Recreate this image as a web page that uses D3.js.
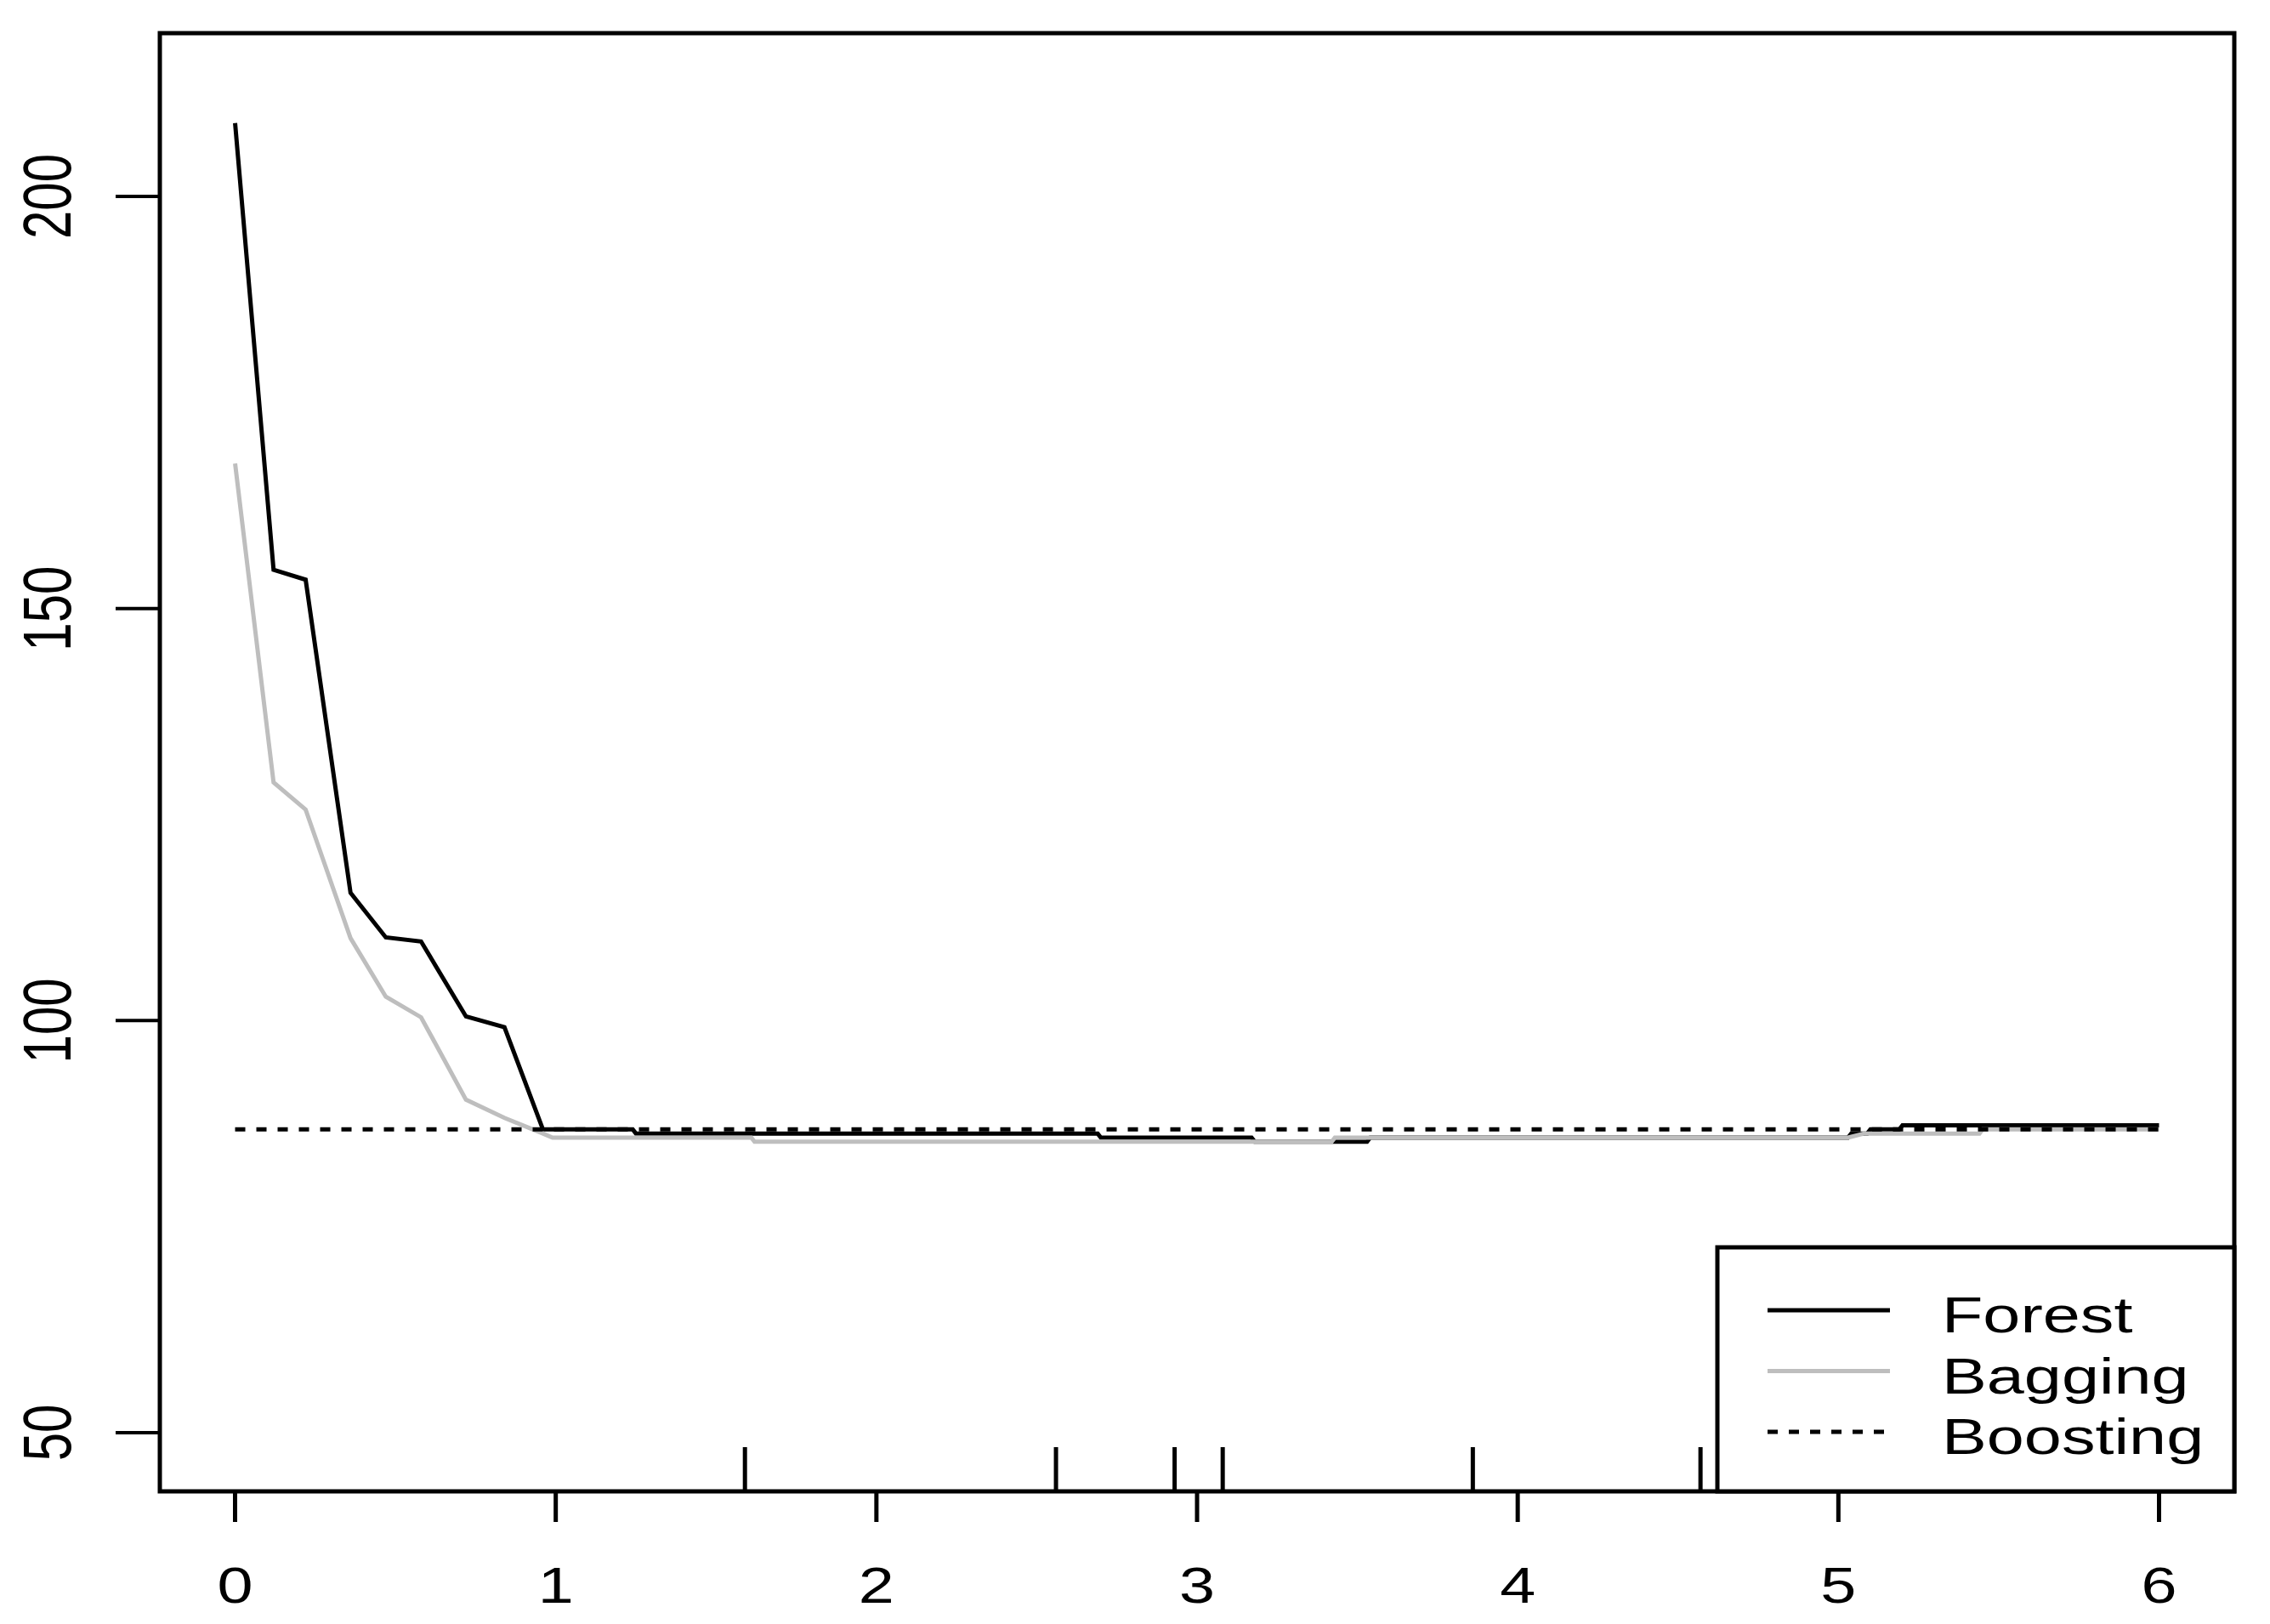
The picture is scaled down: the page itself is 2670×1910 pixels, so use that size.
<!DOCTYPE html>
<html>
<head>
<meta charset="utf-8">
<script src="https://cdn.jsdelivr.net/npm/d3@7"></script>
<style>
  body { margin: 0; background: #fff; }
  text { font-family: "Liberation Sans", Arial, sans-serif; fill: #000; }
</style>
</head>
<body>
<div id="chart"></div>
<script>
// Data
var forestX = [0, 0.12, 0.22, 0.36, 0.47, 0.58, 0.72, 0.84, 0.96, 1.24, 1.25, 2.69, 2.70, 3.17, 3.18, 3.53, 3.54, 5.03, 5.04, 5.09, 5.10, 5.19, 5.20, 6];
var forestY = [208.9, 154.7, 153.5, 115.5, 110.1, 109.6, 100.5, 99.2, 86.8, 86.8, 86.3, 86.3, 85.8, 85.8, 85.3, 85.3, 85.8, 85.8, 86.3, 86.3, 86.8, 86.8, 87.3, 87.3];

var baggingX = [0, 0.12, 0.22, 0.36, 0.47, 0.58, 0.72, 0.84, 0.96, 0.99, 1.61, 1.62, 3.42, 3.43, 5.03, 5.08, 5.44, 5.45, 6];
var baggingY = [167.6, 128.9, 125.6, 110.0, 102.9, 100.4, 90.4, 88.2, 86.3, 85.8, 85.8, 85.3, 85.3, 85.8, 85.8, 86.3, 86.3, 86.8, 86.8];

var boostingX = [0, 6];
var boostingY = [86.8, 86.8];

var rugX = [1.59, 2.56, 2.93, 3.08, 3.86, 4.57];

var xTicks = [0, 1, 2, 3, 4, 5, 6];
var yTicks = [50, 100, 150, 200];

var legendLabels = ["Forest", "Bagging", "Boosting"];

// Page and plot region
var W = 2670, H = 1910;
var box = {left: 188, right: 2628, top: 39, bottom: 1754};
var stretch = 1.32;     // legend text is drawn wider than tall
var tickStretch = 1.26; // axis digits a little narrower

var x = d3.scaleLinear().domain([-0.24, 6.24]).range([186, 2630]);
var y = d3.scaleLinear().domain([42.88, 219.81]).range([box.bottom, box.top]);

var svg = d3.select("#chart").append("svg")
    .attr("width", W)
    .attr("height", H);

svg.append("rect")
    .attr("width", W).attr("height", H)
    .attr("fill", "#fff");

function pts(xs, ys) {
  return xs.map(function(d, i) { return [d, ys[i]]; });
}

var line = d3.line()
    .x(function(d) { return x(d[0]); })
    .y(function(d) { return y(d[1]); });

// Series
svg.append("path")
    .attr("d", line(pts(forestX, forestY)))
    .attr("fill", "none")
    .attr("stroke", "#000")
    .attr("stroke-width", 5);

svg.append("path")
    .attr("d", line(pts(baggingX, baggingY)))
    .attr("fill", "none")
    .attr("stroke", "#bebebe")
    .attr("stroke-width", 5);

svg.append("path")
    .attr("d", line(pts(boostingX, boostingY)))
    .attr("fill", "none")
    .attr("stroke", "#000")
    .attr("stroke-width", 5)
    .attr("stroke-dasharray", "12,13");

// Rug marks along the bottom
svg.selectAll(".rug")
    .data(rugX)
  .enter().append("line")
    .attr("class", "rug")
    .attr("x1", function(d) { return x(d); })
    .attr("x2", function(d) { return x(d); })
    .attr("y1", box.bottom)
    .attr("y2", box.bottom - 52)
    .attr("stroke", "#000")
    .attr("stroke-width", 5);

// x axis
svg.selectAll(".xtick")
    .data(xTicks)
  .enter().append("line")
    .attr("x1", function(d) { return x(d); })
    .attr("x2", function(d) { return x(d); })
    .attr("y1", box.bottom)
    .attr("y2", box.bottom + 36)
    .attr("stroke", "#000")
    .attr("stroke-width", 5);

svg.selectAll(".xlab")
    .data(xTicks)
  .enter().append("text")
    .attr("transform", function(d) { return "translate(" + x(d) + ",1885) scale(" + tickStretch + ",1)"; })
    .attr("text-anchor", "middle")
    .style("font-size", "60px")
    .text(function(d) { return d; });

// y axis
svg.selectAll(".ytick")
    .data(yTicks)
  .enter().append("line")
    .attr("x1", box.left - 52)
    .attr("x2", box.left)
    .attr("y1", function(d) { return y(d); })
    .attr("y2", function(d) { return y(d); })
    .attr("stroke", "#000")
    .attr("stroke-width", 4);

svg.selectAll(".ylab")
    .data(yTicks)
  .enter().append("text")
    .attr("transform", function(d) { return "translate(83," + y(d) + ") scale(" + stretch + ",1) rotate(-90)"; })
    .attr("text-anchor", "middle")
    .style("font-size", "60px")
    .text(function(d) { return d; });

// plot box
svg.append("rect")
    .attr("x", box.left).attr("y", box.top)
    .attr("width", box.right - box.left)
    .attr("height", box.bottom - box.top)
    .attr("fill", "none")
    .attr("stroke", "#000")
    .attr("stroke-width", 5);

// Legend, bottom right
var lg = {left: 2020, top: 1467};
svg.append("rect")
    .attr("x", lg.left).attr("y", lg.top)
    .attr("width", box.right - lg.left)
    .attr("height", box.bottom - lg.top)
    .attr("fill", "#fff")
    .attr("stroke", "#000")
    .attr("stroke-width", 5);

var legendStyle = [
  {color: "#000", dash: null},
  {color: "#bebebe", dash: null},
  {color: "#000", dash: "12,13"}
];

legendLabels.forEach(function(name, i) {
  var cy = 1541 + i * 71.5;
  svg.append("line")
      .attr("x1", 2079).attr("x2", 2223)
      .attr("y1", cy).attr("y2", cy)
      .attr("stroke", legendStyle[i].color)
      .attr("stroke-width", 5)
      .attr("stroke-dasharray", legendStyle[i].dash);
  svg.append("text")
      .attr("transform", "translate(2284," + (cy + 26) + ") scale(" + stretch + ",1)")
      .style("font-size", "60px")
      .text(name);
});
</script>
</body>
</html>
